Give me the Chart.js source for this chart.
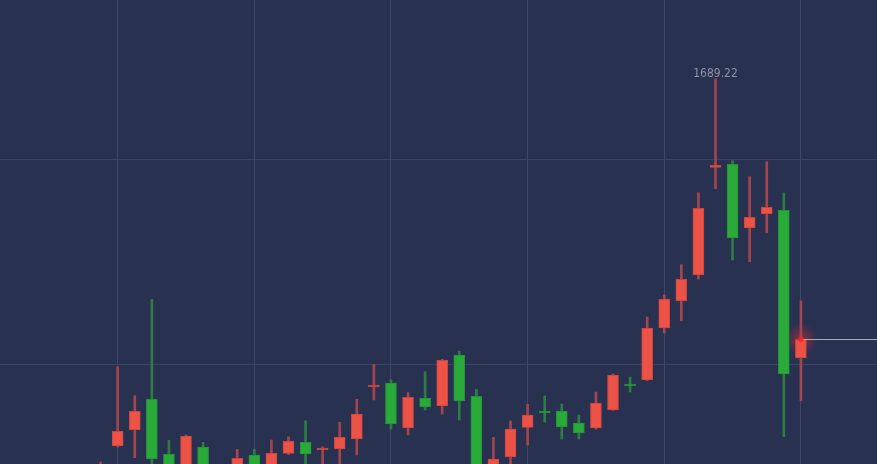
<!DOCTYPE html>
<html>
<head>
<meta charset="utf-8">
<script src="https://cdn.jsdelivr.net/npm/chart.js@4.4.1/dist/chart.umd.min.js"></script>
<style>
html,body{margin:0;padding:0;background:#293151;overflow:hidden}
#wrap{width:877px;height:464px;position:relative}
</style>
</head>
<body>
<div id="wrap"><canvas id="c"></canvas></div>
<script>
// ---- data ----
const candleIndex = [0,1,2,3,4,5,6,7,8,9,10,11,12,13,14,15,16,17,18,19,20,21,22,23,24,25,26,27,28,29,30,31,32,33,34,35,36,37,38,39,40,41];
const opens  = [1493.56,1510.15,1517.95,1532.93,1506.10,1496.00,1509.66,1493.56,1498.44,1505.76,1500.39,1506.59,1511.95,1508.20,1508.68,1513.56,1538.93,1540.88,1518.93,1533.41,1529.66,1554.54,1534.39,1493.56,1504.78,1519.27,1527.22,1527.22,1521.37,1518.93,1527.71,1540.39,1542.34,1567.71,1580.88,1593.56,1646.10,1647.56,1616.49,1623.32,1625.12,1553.07];
const highs  = [1502.34,1548.83,1534.68,1581.71,1512.93,1515.51,1511.95,1500.39,1508.54,1508.54,1513.07,1514.68,1522.49,1509.80,1521.71,1532.93,1550.00,1542.49,1536.15,1546.39,1552.44,1556.34,1537.80,1514.39,1522.34,1530.49,1534.54,1530.63,1525.27,1536.49,1545.27,1543.80,1573.07,1583.80,1598.59,1633.71,1689.22,1649.32,1641.51,1648.83,1633.56,1581.02];
const lows   = [1488.68,1509.66,1504.44,1496.00,1493.56,1493.56,1496.00,1491.12,1496.00,1497.46,1498.44,1505.90,1498.44,1498.44,1499.41,1505.76,1532.59,1518.44,1515.51,1527.71,1525.76,1522.83,1493.56,1488.68,1500.39,1510.63,1521.85,1513.56,1513.56,1518.44,1527.50,1536.49,1542.10,1565.27,1571.27,1591.61,1635.66,1600.88,1600.05,1614.20,1514.68,1532.24];
const closes = [1498.44,1517.32,1527.07,1503.80,1497.46,1515.02,1499.41,1498.44,1504.15,1499.41,1506.59,1512.44,1506.24,1509.02,1514.39,1525.76,1539.90,1520.88,1533.90,1529.17,1551.95,1532.10,1496.00,1503.80,1518.44,1525.27,1526.24,1519.41,1516.49,1531.12,1544.78,1539.41,1567.71,1581.85,1591.46,1626.10,1647.07,1611.61,1621.71,1626.59,1545.27,1562.10];
const xGridTicks = [1,9,17,25,33,41];
const yGridTicks = [1550,1650];

// ---- styles ----
const UP_BODY = '#ec5346', UP_BORDER = '#c9473f', UP_WICK = '#a3444e';
const DOWN_BODY = '#2aab39', DOWN_BORDER = '#24923a', DOWN_WICK = '#2e7b44';
const isUp = closes.map((c, i) => c >= opens[i]);

const bodies = candleIndex.map((x, i) => ({x, y: [opens[i], closes[i]]}));
const wicks  = candleIndex.map((x, i) => ({x, y: [lows[i], highs[i]]}));
const lastI = candleIndex.length - 1;
const lastClose = closes[lastI];

const overlay = {
  id: 'overlay',
  beforeDatasetsDraw(chart) {
    const {ctx, scales: {x, y}} = chart;
    const px = x.getPixelForValue(candleIndex[lastI]);
    const py = y.getPixelForValue(lastClose);
    const g = ctx.createRadialGradient(px, py, 0, px, py, 17);
    g.addColorStop(0, 'rgba(255,40,40,0.55)');
    g.addColorStop(0.5, 'rgba(255,40,40,0.22)');
    g.addColorStop(1, 'rgba(255,40,40,0)');
    ctx.save();
    ctx.fillStyle = g;
    ctx.beginPath(); ctx.arc(px, py, 17, 0, Math.PI * 2); ctx.fill();
    ctx.restore();
  },
  afterDatasetsDraw(chart) {
    const {ctx, scales: {x, y}} = chart;
    // glowing dot on last price
    const px = x.getPixelForValue(candleIndex[lastI]);
    const py = y.getPixelForValue(lastClose);
    ctx.save();
    ctx.fillStyle = '#ff2424';
    ctx.beginPath(); ctx.arc(px, py, 2.5, 0, Math.PI * 2); ctx.fill();
    // max high label
    let mi = 0;
    highs.forEach((h, i) => { if (h > highs[mi]) mi = i; });
    const hx = x.getPixelForValue(candleIndex[mi]);
    const hy = y.getPixelForValue(highs[mi]);
    ctx.fillStyle = '#8c91a3';
    ctx.font = '12px "DejaVu Sans Condensed", "DejaVu Sans", sans-serif';
    ctx.textAlign = 'center';
    ctx.textBaseline = 'alphabetic';
    ctx.fillText(highs[mi].toFixed(2), hx, hy - 1.5);
    ctx.restore();
  }
};

new Chart(document.getElementById('c'), {
  type: 'bar',
  data: {
    datasets: [
      {
        label: 'body',
        data: bodies,
        order: 1,
        grouped: false,
        barThickness: 11,
        minBarLength: 2,
        borderWidth: 1,
        borderSkipped: false,
        backgroundColor: isUp.map(u => u ? UP_BODY : DOWN_BODY),
        borderColor: isUp.map(u => u ? UP_BORDER : DOWN_BORDER)
      },
      {
        label: 'wick',
        data: wicks,
        order: 2,
        grouped: false,
        barThickness: 2,
        borderWidth: 0,
        backgroundColor: isUp.map(u => u ? UP_WICK : DOWN_WICK)
      },
      {
        type: 'line',
        label: 'last',
        data: [{x: candleIndex[lastI], y: lastClose}, {x: 46, y: lastClose}],
        order: 0,
        borderColor: '#a8aec0',
        borderWidth: 1,
        pointRadius: 0,
        tension: 0
      }
    ]
  },
  options: {
    responsive: true,
    maintainAspectRatio: false,
    animation: false,
    layout: {padding: 0},
    plugins: {legend: {display: false}, tooltip: {enabled: false}},
    scales: {
      x: {
        type: 'linear',
        min: -5.891, max: 45.456,
        offset: false,
        afterBuildTicks: axis => { axis.ticks = xGridTicks.map(v => ({value: v})); },
        grid: {offset: false, color: '#3f4869', lineWidth: 1, drawTicks: false},
        border: {display: false},
        ticks: {display: false}
      },
      y: {
        type: 'linear',
        min: 1501.37, max: 1727.71,
        afterBuildTicks: axis => { axis.ticks = yGridTicks.map(v => ({value: v})); },
        grid: {color: '#3a4363', lineWidth: 1, drawTicks: false},
        border: {display: false},
        ticks: {display: false}
      }
    }
  },
  plugins: [overlay]
});
</script>
</body>
</html>
